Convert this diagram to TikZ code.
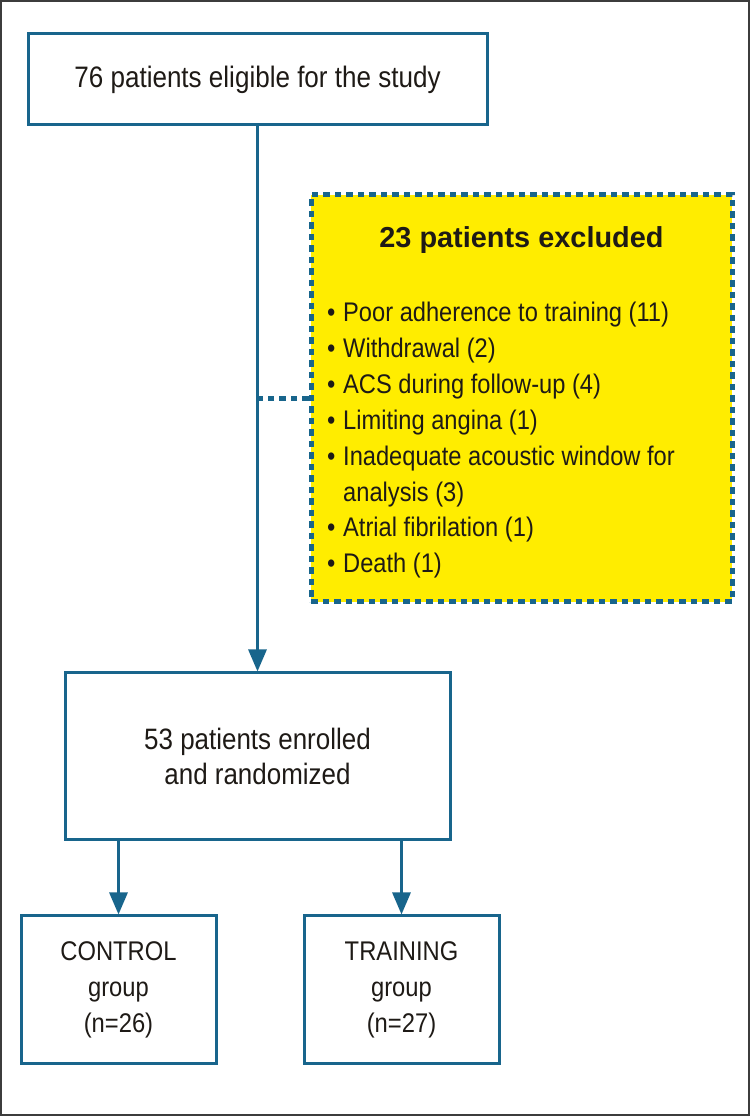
\documentclass[tikz,border=0pt]{standalone}
\usepackage{fontspec}
\setmainfont{Liberation Sans}[FakeStretch=0.88]
\newfontfamily\titlefont{Liberation Sans}
\usetikzlibrary{arrows.meta}
\definecolor{flowblue}{RGB}{24,101,140}
\definecolor{exclyellow}{RGB}{255,237,0}
\definecolor{inkgray}{RGB}{30,26,22}
\definecolor{framegray}{RGB}{60,60,60}
\newcommand{\listdot}{\makebox[16bp][l]{\textbullet}}
\begin{document}
\begin{tikzpicture}[>={Triangle[width=18bp,length=22bp]},line join=miter,
  box/.style={draw=flowblue,line width=3bp,fill=white,text=inkgray,align=center,inner sep=0pt},
  excl/.style={draw=flowblue,line width=5bp,dash pattern=on 6.5bp off 5bp},
  flow/.style={draw=flowblue,line width=3bp,->}]
%%
\useasboundingbox (0bp,0bp) rectangle (750bp,1116bp);
\draw [framegray,line width=1.5bp] (1bp,1bp) rectangle (749bp,1115bp);
\node (node_eligible) at (257.5bp,1036.5bp) [box,minimum width=459bp,minimum height=91bp,font=\fontsize{29.7}{35}\selectfont] {76 patients eligible for the study};
  \node (node_excluded) at (521.5bp,717.5bp) [excl,fill=exclyellow,minimum width=421bp,minimum height=407bp] {};
  \node (node_title) at (521.5bp,876bp) [text=inkgray,font=\titlefont\bfseries\fontsize{29}{35}\selectfont] {23 patients excluded};
  \node (node_reasons) at (327bp,814bp) [anchor=north west,inner sep=0pt,align=left,text=inkgray,font=\fontsize{27}{36}\selectfont] {\listdot Poor adherence to training (11)\\
    \listdot Withdrawal (2)\\
    \listdot ACS during follow-up (4)\\
    \listdot Limiting angina (1)\\
    \listdot Inadequate acoustic window for\\
    \hspace*{16bp}analysis (3)\\
    \listdot Atrial fibrilation (1)\\
    \listdot Death (1)};
  \node (node_enrolled) at (257.5bp,359.5bp) [box,minimum width=385bp,minimum height=167bp,font=\fontsize{29.6}{35}\selectfont] {53 patients enrolled\\and randomized};
  \node (node_control) at (118.5bp,126bp) [box,minimum width=195bp,minimum height=148bp,font=\fontsize{27.1}{36}\selectfont] {CONTROL\\group\\(n=26)};
  \node (node_training) at (401.5bp,126bp) [box,minimum width=195bp,minimum height=148bp,font=\fontsize{27.1}{36}\selectfont] {TRAINING\\group\\(n=27)};
  \draw [flow] (node_eligible.south) -- (node_enrolled.north);
  \draw [excl] (node_excluded.west) -- (node_excluded.west -| node_eligible.south);
  \draw [flow] (node_enrolled.south -| node_control.north) -- (node_control.north);
  \draw [flow] (node_enrolled.south -| node_training.north) -- (node_training.north);
%
\end{tikzpicture}
\end{document}
